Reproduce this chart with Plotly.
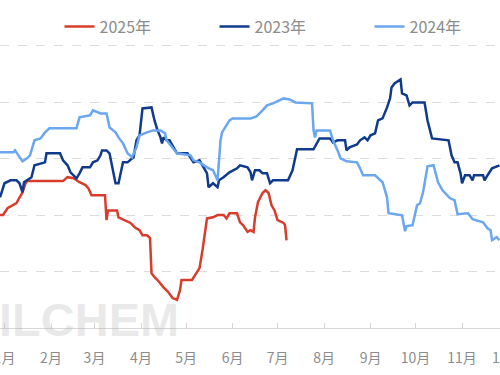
import plotly.graph_objects as go

# x = day offset from Jan 1 (common leap-year calendar), y = price
days_2025 = [-3, -1, 2, 5, 8, 10, 12, 14, 15, 39, 42, 46, 50, 54, 56, 58, 67, 68, 69, 70, 75, 76, 80, 84, 87,
             90, 92, 95, 97, 98, 100, 102, 106, 109, 112, 115, 117, 118, 125, 128, 130, 132, 135, 139, 142,
             146, 148, 150, 155, 157, 159, 162, 164, 166, 167, 169, 172, 174, 176, 178, 180, 182, 186, 187, 188]
vals_2025 = [7000, 7000, 7060, 7085, 7105, 7155, 7200, 7280, 7300, 7300, 7335, 7325, 7290, 7265, 7235, 7175,
             7175, 6955, 7040, 7040, 7040, 6980, 6955, 6930, 6890, 6865, 6820, 6820, 6795, 6485, 6450, 6425,
             6360, 6320, 6265, 6250, 6335, 6425, 6425, 6485, 6530, 6690, 6970, 6980, 7000, 7000, 6970, 7015,
             7015, 6935, 6910, 6850, 6865, 6850, 6980, 7115, 7195, 7220, 7195, 7085, 7040, 6955, 6930, 6910, 6775]

days_2023 = [-3, 0, 4, 8, 10, 12, 13, 15, 18, 20, 24, 27, 28, 37, 39, 42, 44, 46, 48, 50, 52, 57, 59, 62, 64,
             65, 68, 70, 72, 74, 76, 78, 79, 82, 86, 88, 90, 92, 98, 100, 102, 104, 105, 106, 108, 110, 112,
             115, 122, 124, 126, 130, 132, 135, 136, 139, 142, 143, 146, 150, 155, 157, 162, 164, 165, 167,
             170, 172, 175, 177, 179, 189, 192, 194, 195, 206, 208, 210, 217, 219, 222, 227, 228, 230, 235,
             237, 240, 242, 244, 247, 249, 252, 255, 257, 258, 260, 264, 265, 268, 270, 272, 280, 282, 285,
             296, 298, 300, 302, 304, 305, 307, 310, 312, 313, 319, 320, 322, 325, 330]
vals_2023 = [7157, 7281, 7307, 7307, 7281, 7201, 7290, 7307, 7334, 7440, 7458, 7466, 7546, 7546, 7484, 7440,
             7378, 7352, 7325, 7369, 7422, 7422, 7466, 7484, 7528, 7572, 7572, 7546, 7413, 7281, 7281, 7422,
             7466, 7466, 7511, 7661, 7705, 7943, 7952, 7837, 7749, 7687, 7634, 7687, 7661, 7661, 7617, 7546,
             7546, 7502, 7466, 7484, 7440, 7369, 7246, 7281, 7246, 7307, 7334, 7378, 7413, 7440, 7422, 7378,
             7307, 7396, 7396, 7369, 7369, 7281, 7307, 7307, 7396, 7511, 7581, 7581, 7634, 7678, 7678, 7643,
             7661, 7661, 7572, 7599, 7625, 7661, 7687, 7661, 7705, 7723, 7837, 7855, 7952, 8032, 8129, 8164,
             8200, 8076, 8058, 7970, 7996, 7996, 7837, 7678, 7661, 7528, 7466, 7466, 7369, 7281, 7352, 7352,
             7307, 7352, 7352, 7307, 7352, 7413, 7440]

days_2024 = [-3, 6, 7, 12, 15, 17, 20, 24, 27, 30, 48, 50, 57, 59, 64, 68, 70, 74, 76, 79, 82, 85, 88, 90, 95,
             99, 104, 107, 108, 112, 115, 124, 126, 130, 135, 139, 142, 144, 145, 150, 152, 164, 168, 172, 175,
             179, 184, 186, 190, 194, 205, 206, 207, 208, 217, 219, 222, 224, 228, 235, 237, 239, 247, 249, 252,
             255, 256, 265, 267, 268, 272, 275, 277, 279, 282, 286, 289, 292, 294, 297, 300, 302, 309, 312, 319,
             322, 324, 325, 328, 330]
vals_2024 = [7555, 7555, 7572, 7475, 7502, 7528, 7661, 7678, 7731, 7767, 7767, 7864, 7882, 7926, 7899, 7899,
             7776, 7731, 7687, 7634, 7546, 7511, 7599, 7705, 7731, 7749, 7749, 7723, 7661, 7599, 7546, 7528,
             7484, 7466, 7422, 7396, 7307, 7661, 7731, 7837, 7855, 7855, 7873, 7926, 7970, 7988, 8023, 8032,
             8023, 7996, 7988, 7749, 7687, 7749, 7749, 7661, 7572, 7502, 7475, 7466, 7413, 7352, 7352, 7325,
             7290, 7157, 7016, 6998, 6857, 6901, 6910, 7087, 7104, 7201, 7431, 7440, 7290, 7219, 7193, 7148,
             7131, 7007, 7016, 6963, 6936, 6883, 6866, 6777, 6804, 6777]

month_starts = [0, 31, 60, 91, 121, 152, 182, 213, 244, 274, 305, 335]
month_labels = ["1月", "2月", "3月", "4月", "5月", "6月", "7月", "8月", "9月", "10月", "11月", "12月"]
y_grid = [6000, 6500, 7000, 7500, 8000, 8500]
x_range = [-3, 330.3]
y_range = [6000, 8540]

FONT = "Microsoft YaHei, Noto Sans CJK SC, sans-serif"
LABEL_GRAY = "#8c8c8c"
TICK_SIZE = 14

fig = go.Figure()
fig.add_trace(go.Scatter(x=days_2025, y=vals_2025, mode="lines", name="2025年",
                         line=dict(color="#d83d2c", width=2.5)))
fig.add_trace(go.Scatter(x=days_2023, y=vals_2023, mode="lines", name="2023年",
                         line=dict(color="#103b8c", width=2.5)))
fig.add_trace(go.Scatter(x=days_2024, y=vals_2024, mode="lines", name="2024年",
                         line=dict(color="#6ba6f0", width=2.5)))

# watermark
fig.add_annotation(text="<b>ILCHEM</b>", xref="paper", yref="paper", x=0, y=0.03, xanchor="left",
                   yanchor="middle", xshift=-3, showarrow=False,
                   font=dict(family="Liberation Sans, Arial, sans-serif", size=47, color="rgba(170,170,170,0.25)"))

# the December label sits just past the visible range (partly cut by the edge, as in the source)
dec_frac = (month_starts[11] - x_range[0]) / (x_range[1] - x_range[0])
fig.add_annotation(text=month_labels[11], xref="paper", yref="paper", x=dec_frac, y=0, yanchor="top",
                   xanchor="center", yshift=-17, showarrow=False,
                   font=dict(size=TICK_SIZE, color=LABEL_GRAY, family=FONT))

fig.update_layout(
    width=500, height=375,
    margin=dict(l=0, r=0, t=41, b=47, autoexpand=False),
    paper_bgcolor="white", plot_bgcolor="white",
    font=dict(family=FONT, color=LABEL_GRAY),
    showlegend=True,
    legend=dict(orientation="h", x=0.584, xanchor="center", y=1.05, yanchor="middle",
                font=dict(size=16, color=LABEL_GRAY), entrywidth=110, entrywidthmode="pixels",
                bgcolor="rgba(0,0,0,0)"),
    xaxis=dict(range=x_range, tickmode="array", tickvals=month_starts[:11], ticktext=month_labels[:11],
               showgrid=False, zeroline=False, showline=True, linecolor="#d6d6d6", linewidth=1,
               ticks="inside", ticklen=5, tickcolor="#d6d6d6", ticklabelstandoff=17,
               ticklabeloverflow="allow",
               tickfont=dict(size=TICK_SIZE, color=LABEL_GRAY, family=FONT)),
    yaxis=dict(range=y_range, tickmode="array", tickvals=y_grid, showticklabels=False,
               showgrid=True, gridcolor="#dcdcdc", griddash="dash", gridwidth=1, zeroline=False, showline=False),
)

fig.write_html("out.html", config={"displayModeBar": False},
               post_script="document.body.style.margin='0';")
